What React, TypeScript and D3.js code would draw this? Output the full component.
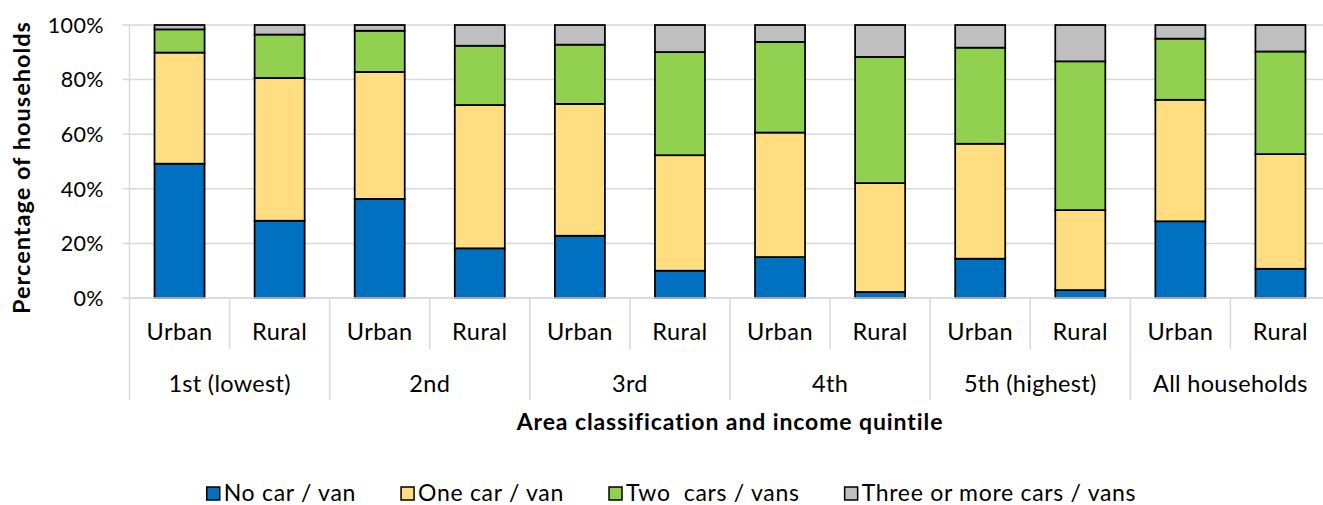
import React, { useEffect, useRef } from "react";
import * as d3 from "d3";

// income quintile groups, each split urban / rural
const groups = ["1st (lowest)", "2nd", "3rd", "4th", "5th (highest)", "All households"];
const areas = ["Urban", "Rural"];
const seriesNames = ["No car / van", "One car / van", "Two  cars / vans", "Three or more cars / vans"];
const seriesColors = ["#0070C0", "#FFDD80", "#92D050", "#BFBFBF"];

// % of households, in order: 1st U, 1st R, 2nd U, 2nd R, ...
const noCar = [49.2, 28.3, 36.3, 18.2, 22.8, 10.0, 15.0, 2.2, 14.4, 2.9, 28.1, 10.7];
const oneCar = [40.7, 52.3, 46.5, 52.5, 48.3, 42.3, 45.6, 39.9, 42.1, 29.3, 44.5, 42.0];
const twoCars = [8.5, 15.9, 15.1, 21.7, 21.7, 37.8, 33.2, 46.2, 35.2, 54.5, 22.4, 37.6];
const threePlus = [1.6, 3.5, 2.1, 7.6, 7.2, 9.9, 6.2, 11.7, 8.3, 13.3, 5.0, 9.7];

const yTicks = [0, 20, 40, 60, 80, 100];

const W = 1323;
const H = 505;
const FONT = "Lato, 'Open Sans', sans-serif";

const App = () => {
  const ref = useRef<SVGSVGElement>(null);

  useEffect(() => {
    const svg = d3.select(ref.current);
    svg.selectAll("*").remove();

    const left = 129.5;
    const right = 1330.5;
    const top = 25;
    const bottom = 298;

    const keys = groups.flatMap((g) => areas.map((a) => `${g}|${a}`));
    const rows = keys.map((k, i) => ({
      key: k,
      area: k.split("|")[1],
      [seriesNames[0]]: noCar[i],
      [seriesNames[1]]: oneCar[i],
      [seriesNames[2]]: twoCars[i],
      [seriesNames[3]]: threePlus[i],
    }));

    const x = d3.scaleBand().domain(keys).range([left, right]).paddingInner(0.5).paddingOuter(0.25);
    const step = x.step();
    const y = d3.scaleLinear().domain([0, 100]).range([bottom, top]);

    // gridlines
    svg
      .append("g")
      .selectAll("line")
      .data(yTicks)
      .join("line")
      .attr("x1", left - 7)
      .attr("x2", right)
      .attr("y1", (d) => y(d))
      .attr("y2", (d) => y(d))
      .attr("stroke", "#D9D9D9")
      .attr("stroke-width", 1.5);

    // y axis line
    svg
      .append("line")
      .attr("x1", left)
      .attr("x2", left)
      .attr("y1", top)
      .attr("y2", bottom)
      .attr("stroke", "#D9D9D9")
      .attr("stroke-width", 1.5);

    // y tick labels
    svg
      .append("g")
      .selectAll("text")
      .data(yTicks)
      .join("text")
      .attr("x", 104)
      .attr("y", (d) => y(d))
      .attr("dy", "0.36em")
      .attr("text-anchor", "end")
      .style("font-family", FONT)
      .style("font-size", "21.5px")
      .style("letter-spacing", "0.4px")
      .style("fill", "#000")
      .text((d) => `${d}%`);

    // stacked bars
    const stack = d3.stack<any>().keys(seriesNames);
    const layers = stack(rows as any);

    svg
      .append("g")
      .selectAll("g")
      .data(layers)
      .join("g")
      .attr("fill", (_, i) => seriesColors[i])
      .selectAll("rect")
      .data((d) => d)
      .join("rect")
      .attr("x", (d: any) => x(d.data.key)!)
      .attr("width", x.bandwidth())
      .attr("y", (d) => y(d[1]))
      .attr("height", (d) => y(d[0]) - y(d[1]))
      .attr("stroke", "#000")
      .attr("stroke-width", 1.75);

    // x axis baseline
    svg
      .append("line")
      .attr("x1", left)
      .attr("x2", right)
      .attr("y1", bottom)
      .attr("y2", bottom)
      .attr("stroke", "#D9D9D9")
      .attr("stroke-width", 1.5);

    // separators: short between urban/rural, long between groups
    const seps = d3.range(keys.length + 1);
    svg
      .append("g")
      .selectAll("line")
      .data(seps)
      .join("line")
      .attr("x1", (i) => left + i * step)
      .attr("x2", (i) => left + i * step)
      .attr("y1", bottom)
      .attr("y2", (i) => (i % 2 === 0 ? 400 : 349))
      .attr("stroke", "#D9D9D9")
      .attr("stroke-width", 1.5);

    // area labels
    svg
      .append("g")
      .selectAll("text")
      .data(rows)
      .join("text")
      .attr("x", (d) => x(d.key)! + x.bandwidth() / 2)
      .attr("y", 340)
      .attr("text-anchor", "middle")
      .style("font-family", FONT)
      .style("font-size", "23.5px")
      .style("letter-spacing", "0.5px")
      .style("fill", "#000")
      .text((d) => d.area);

    // group labels
    svg
      .append("g")
      .selectAll("text")
      .data(groups)
      .join("text")
      .attr("x", (_, i) => left + (2 * i + 1) * step)
      .attr("y", 392)
      .attr("text-anchor", "middle")
      .style("font-family", FONT)
      .style("font-size", "23.5px")
      .style("letter-spacing", "0.3px")
      .style("fill", "#000")
      .text((d) => d);

    // axis titles
    svg
      .append("text")
      .attr("x", (left + right) / 2)
      .attr("y", 430)
      .attr("text-anchor", "middle")
      .style("font-family", FONT)
      .style("font-weight", "bold")
      .style("font-size", "23px")
      .style("letter-spacing", "0.9px")
      .text("Area classification and income quintile");

    svg
      .append("text")
      .attr("transform", `translate(30,${(top + bottom) / 2 + 6}) rotate(-90)`)
      .attr("text-anchor", "middle")
      .style("font-family", FONT)
      .style("font-weight", "bold")
      .style("font-size", "23.5px")
      .style("letter-spacing", "1px")
      .text("Percentage of households");

    // legend, centred by measured widths
    const legend = svg.append("g");
    const items = seriesNames.map((name, i) => {
      const g = legend.append("g");
      g.append("rect")
        .attr("x", 0)
        .attr("y", 487)
        .attr("width", 13)
        .attr("height", 13)
        .attr("fill", seriesColors[i])
        .attr("stroke", "#000")
        .attr("stroke-width", 1.5);
      const t = g
        .append("text")
        .attr("x", 17)
        .attr("y", 500.5)
        .style("font-family", FONT)
        .style("font-size", "23px")
        .style("letter-spacing", "0.7px")
        .style("white-space", "pre")
        .text(name);
      const w = 17 + (t.node() as SVGTextElement).getComputedTextLength();
      return { g, w };
    });
    const gap = 45;
    const total = d3.sum(items, (d) => d.w) + gap * (items.length - 1);
    let cx = 671.5 - total / 2;
    items.forEach((it) => {
      it.g.attr("transform", `translate(${cx},0)`);
      cx += it.w + gap;
    });
  }, []);

  return (
    <svg
      ref={ref}
      width={W}
      height={H}
      style={{ position: "absolute", left: 0, top: 0, background: "#fff", display: "block" }}
    ></svg>
  );
};

export default App;
